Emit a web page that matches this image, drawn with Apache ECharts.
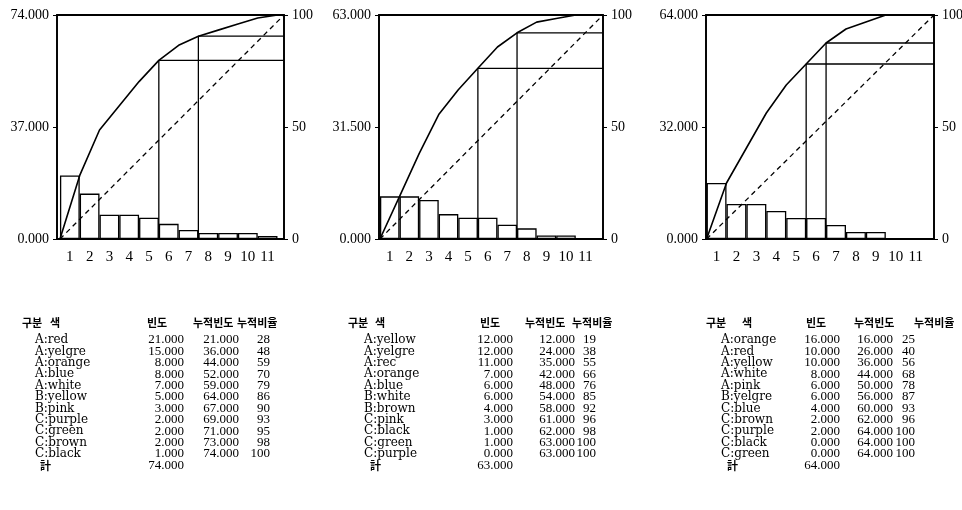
<!DOCTYPE html>
<html>
<head>
<meta charset="utf-8">
<script src="https://cdn.jsdelivr.net/npm/echarts@6/dist/echarts.min.js"></script>
<style>
  html, body { margin: 0; padding: 0; background: #fff; }
  #main { width: 962px; height: 510px; }
</style>
</head>
<body>
<div id="main"></div>
<script>
// 가로축 눈금 (항목 순위)
const ticks = ['1', '2', '3', '4', '5', '6', '7', '8', '9', '10', '11'];

// 표 머리글
const headGroup = '구분';
const headColor = '색';
const headFreq = '빈도';
const headCum = '누적빈도';
const headPct = '누적비율';
const totalLabel = '計';

// 1번 그림
const names1 = ['A:red', 'A:yelgre', 'A:orange', 'A:blue', 'A:white', 'B:yellow', 'B:pink', 'C:purple', 'C:green', 'C:brown', 'C:black'];
const freq1 = [21, 15, 8, 8, 7, 5, 3, 2, 2, 2, 1];
const cum1 = [21, 36, 44, 52, 59, 64, 67, 69, 71, 73, 74];
const pct1 = [28, 48, 59, 70, 79, 86, 90, 93, 95, 98, 100];
const total1 = 74;

// 2번 그림
const names2 = ['A:yellow', 'A:yelgre', 'A:rec', 'A:orange', 'A:blue', 'B:white', 'B:brown', 'C:pink', 'C:black', 'C:green', 'C:purple'];
const freq2 = [12, 12, 11, 7, 6, 6, 4, 3, 1, 1, 0];
const cum2 = [12, 24, 35, 42, 48, 54, 58, 61, 62, 63, 63];
const pct2 = [19, 38, 55, 66, 76, 85, 92, 96, 98, 100, 100];
const total2 = 63;

// 3번 그림
const names3 = ['A:orange', 'A:red', 'A:yellow', 'A:white', 'A:pink', 'B:yelgre', 'C:blue', 'C:brown', 'C:purple', 'C:black', 'C:green'];
const freq3 = [16, 10, 10, 8, 6, 6, 4, 2, 2, 0, 0];
const cum3 = [16, 26, 36, 44, 50, 56, 60, 62, 64, 64, 64];
const pct3 = [25, 40, 56, 68, 78, 87, 93, 96, 100, 100, 100];
const total3 = 64;

const charts = [
  { names: names1, freq: freq1, cum: cum1, pct: pct1, total: total1 },
  { names: names2, freq: freq2, cum: cum2, pct: pct2, total: total2 },
  { names: names3, freq: freq3, cum: cum3, pct: pct3, total: total3 }
];

// 배치 (위치/크기)
const layout = [
  { left: 57, width: 227, xmin: 0.35, xmax: 11.83,
    tbl: { group: 22, color: 50, name: 35, tot: 40, hFreq: 147, freqR: 184, hCum: 193, cumR: 239, hPct: 237, pctR: 270 } },
  { left: 379, width: 224, xmin: 0.45, xmax: 11.89,
    tbl: { group: 348, color: 375, name: 364, tot: 370, hFreq: 480, freqR: 513, hCum: 525, cumR: 575, hPct: 572, pctR: 596 } },
  { left: 706, width: 228, xmin: 0.47, xmax: 11.92,
    tbl: { group: 706, color: 742, name: 721, tot: 727, hFreq: 806, freqR: 840, hCum: 854, cumR: 893, hPct: 914, pctR: 915 } }
];
const gridTop = 15, gridHeight = 224;
const serif = '"Liberation Serif", "DejaVu Serif", serif';
const wideSerif = '"DejaVu Serif", serif';
const korean = '"Noto Sans CJK KR", sans-serif';

const grid = [], xAxis = [], yAxis = [], series = [], graphic = [];

charts.forEach((c, i) => {
  const L = layout[i];
  const bw = L.width / (L.xmax - L.xmin);
  grid.push({
    left: L.left, top: gridTop, width: L.width, height: gridHeight,
    show: true, borderColor: '#000', borderWidth: 1.8,
    containLabel: false, outerBoundsMode: 'none'
  });
  xAxis.push({
    type: 'value', gridIndex: i, min: L.xmin, max: L.xmax,
    splitLine: { show: false },
    axisLine: { show: true, onZero: false, lineStyle: { color: '#000', width: 2 } },
    axisTick: { show: false },
    axisLabel: {
      customValues: ticks.map((t, k) => k + 1),
      formatter: v => ticks[Math.round(v) - 1],
      color: '#000', fontFamily: serif, fontSize: 15, margin: 11
    }
  });
  yAxis.push({
    type: 'value', gridIndex: i, min: 0, max: c.total, interval: c.total / 2,
    splitLine: { show: false },
    axisLine: { show: true, lineStyle: { color: '#000', width: 1.5 } },
    axisTick: { show: true, length: 4, lineStyle: { color: '#000' } },
    axisLabel: { formatter: v => v.toFixed(3), color: '#000', fontFamily: serif, fontSize: 14, margin: 8 }
  });
  yAxis.push({
    type: 'value', gridIndex: i, position: 'right', min: 0, max: 100, interval: 50,
    splitLine: { show: false },
    axisLine: { show: true, lineStyle: { color: '#000', width: 1.5 } },
    axisTick: { show: true, length: 4, lineStyle: { color: '#000' } },
    axisLabel: { color: '#000', fontFamily: serif, fontSize: 14, margin: 8 }
  });

  const xi = i, yl = 2 * i, yr = 2 * i + 1;
  series.push({
    type: 'bar', xAxisIndex: xi, yAxisIndex: yl, barWidth: bw, silent: true,
    data: c.freq.map((v, k) => [k + 1, v]),
    itemStyle: { color: '#fff', borderColor: '#000', borderWidth: 1.3 }
  });
  series.push({
    type: 'line', xAxisIndex: xi, yAxisIndex: yr, symbol: 'none', silent: true,
    data: [[0.5, 0], [L.xmax, 100]],
    lineStyle: { color: '#000', width: 1.3, type: [5, 4] }
  });
  // A/B, B/C 경계선
  ['A', 'B'].forEach(g => {
    let last = -1;
    c.names.forEach((n, k) => { if (n.charAt(0) === g) last = k; });
    if (last < 0) return;
    series.push({
      type: 'line', xAxisIndex: xi, yAxisIndex: yl, symbol: 'none', silent: true,
      data: [[last + 1.5, 0], [last + 1.5, c.cum[last]], [L.xmax, c.cum[last]]],
      lineStyle: { color: '#000', width: 1.3 }
    });
  });
  series.push({
    type: 'line', xAxisIndex: xi, yAxisIndex: yl, symbol: 'none', silent: true,
    data: [[0.5, 0]].concat(c.cum.map((v, k) => [k + 1.5, v])),
    lineStyle: { color: '#000', width: 1.6 }
  });

  // 표
  const T = L.tbl;
  const headY = 323, rowY = 340, rowH = 11.4;
  const txt = (x, y, s, align, font) => ({
    type: 'text', x: x, y: y, silent: true,
    style: { text: s, font: font, fill: '#000', textAlign: align, textVerticalAlign: 'middle', verticalAlign: 'middle' }
  });
  const num = '13px ' + serif;
  const nm = '12px ' + wideSerif;
  const hd = 'bold 11px ' + korean;
  graphic.push(txt(T.group, headY, headGroup, 'left', hd));
  graphic.push(txt(T.color, headY, headColor, 'left', hd));
  graphic.push(txt(T.hFreq, headY, headFreq, 'left', hd));
  graphic.push(txt(T.hCum, headY, headCum, 'left', hd));
  graphic.push(txt(T.hPct, headY, headPct, 'left', hd));
  c.names.forEach((n, k) => {
    const y = rowY + k * rowH;
    graphic.push(txt(T.name, y, n, 'left', nm));
    graphic.push(txt(T.freqR, y, c.freq[k].toFixed(3), 'right', num));
    graphic.push(txt(T.cumR, y, c.cum[k].toFixed(3), 'right', num));
    graphic.push(txt(T.pctR, y, String(c.pct[k]), 'right', num));
  });
  const ty = rowY + c.names.length * rowH;
  graphic.push(txt(T.tot, ty, totalLabel, 'left', 'bold 11px ' + korean));
  graphic.push(txt(T.freqR, ty, c.total.toFixed(3), 'right', num));
});

const myChart = echarts.init(document.getElementById('main'), null, { renderer: 'canvas' });
myChart.setOption({
  animation: false,
  backgroundColor: '#fff',
  grid: grid,
  xAxis: xAxis,
  yAxis: yAxis,
  series: series,
  graphic: graphic
});
</script>
</body>
</html>
